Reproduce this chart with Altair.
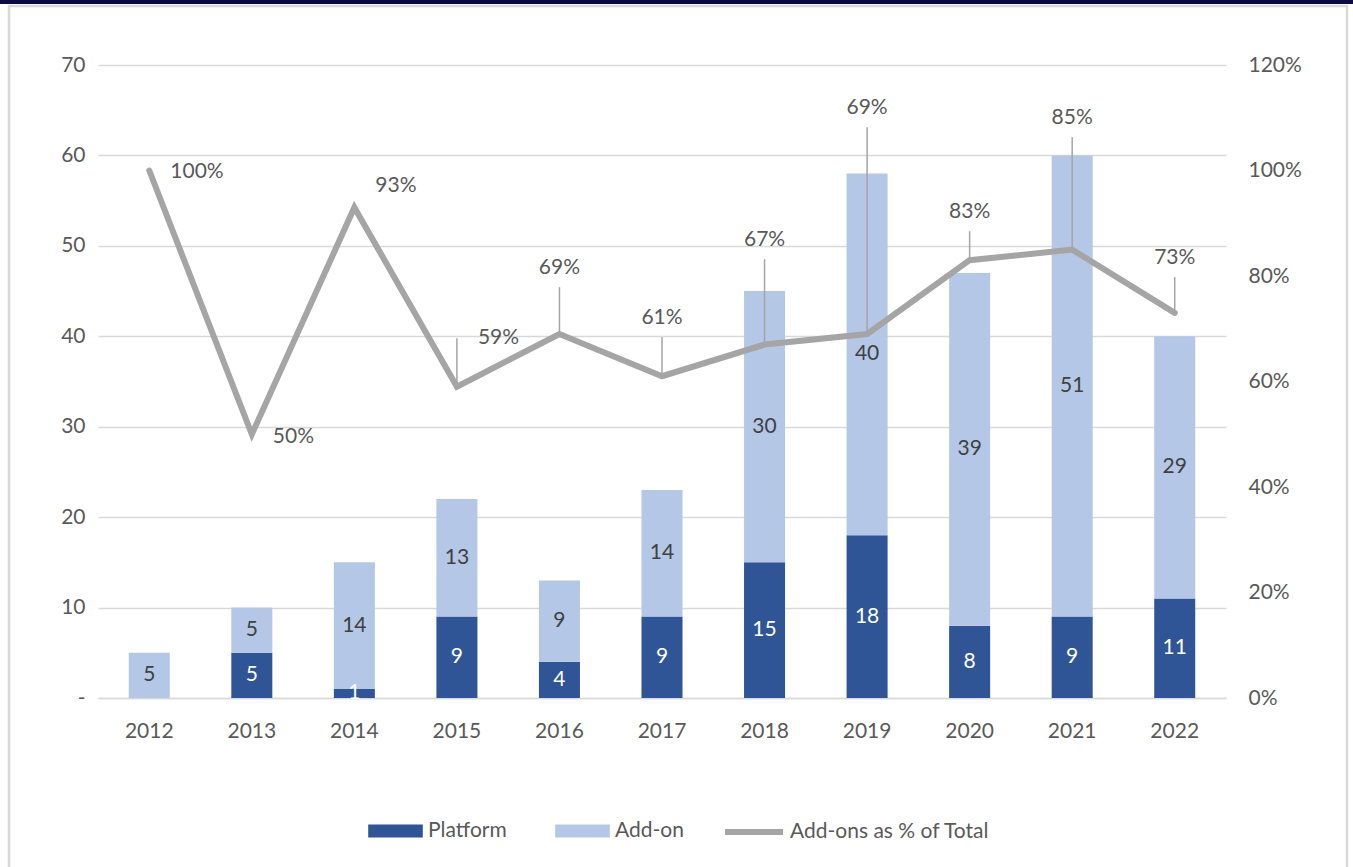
import altair as alt
import pandas as pd

years = ["2012", "2013", "2014", "2015", "2016", "2017", "2018", "2019", "2020", "2021", "2022"]
platform = [0, 5, 1, 9, 4, 9, 15, 18, 8, 9, 11]
addon = [5, 5, 14, 13, 9, 14, 30, 40, 39, 51, 29]
addon_pct = [1.00, 0.50, 0.93, 0.59, 0.69, 0.61, 0.67, 0.69, 0.83, 0.85, 0.73]
# where each percentage label sits (on the right-hand % scale)
pct_label_y = [0.997, 0.495, 0.971, 0.682, 0.815, 0.720, 0.868, 1.118, 0.921, 1.099, 0.834]
bar_series = ["Platform", "Add-on"]
line_series = "Add-ons as % of Total"

n = len(years)
bars_df = pd.DataFrame({
    "year": years * 2,
    "series": [bar_series[0]] * n + [bar_series[1]] * n,
    "value": platform + addon,
    "order": [0] * n + [1] * n,
})
line_df = pd.DataFrame({
    "year": years,
    "pct": addon_pct,
    "label_y": pct_label_y,
    "series": [line_series] * n,
    "idx": list(range(n)),
})

FONT = "Lato"
TXT = "#595959"
GRID = "#D9D9D9"
FS = 21

x_enc = alt.X(
    "year:N",
    scale=alt.Scale(paddingInner=0.6, paddingOuter=0.3),
    axis=alt.Axis(title=None, labelAngle=0, ticks=False, domain=True, domainColor=GRID,
                  domainWidth=1.5, labelPadding=22, labelFontSize=FS, labelColor=TXT, labelFont=FONT),
)

left_scale = alt.Scale(domain=[0, 70])
right_scale = alt.Scale(domain=[0, 1.2])

frame = alt.Chart(pd.DataFrame({"k": [0]})).mark_rect(
    filled=False, stroke=GRID, strokeWidth=2.5
).encode(x=alt.value(-89), x2=alt.value(1249), y=alt.value(-59), y2=alt.value(830))

topband = alt.Chart(pd.DataFrame({"k": [0]})).mark_rect(color="#0B0B3F").encode(
    x=alt.value(-98), x2=alt.value(1255), y=alt.value(-65), y2=alt.value(-61)
)

bars = alt.Chart(bars_df).mark_bar().encode(
    x=x_enc,
    y=alt.Y("value:Q", stack="zero", scale=left_scale,
            axis=alt.Axis(title=None, values=list(range(0, 71, 10)),
                          labelExpr="datum.value == 0 ? '-' : datum.label",
                          grid=True, gridColor=GRID, gridWidth=1.5, domain=False, ticks=False,
                          labelPadding=13, labelFontSize=FS, labelColor=TXT, labelFont=FONT)),
    fill=alt.Fill("series:N",
                  scale=alt.Scale(domain=bar_series, range=["#2F5597", "#B4C7E7"]),
                  legend=alt.Legend(orient="none", legendX=284.5, legendY=753, direction="horizontal",
                                    title=None, symbolType="M-2.1,-0.5H2.1V0.5H-2.1Z", symbolSize=676,
                                    symbolStrokeWidth=0, labelOffset=19.5, columnPadding=47,
                                    labelFontSize=FS, labelColor=TXT, labelFont=FONT, padding=0,
                                    labelLimit=400)),
    order=alt.Order("order:Q", sort="ascending"),
)

bar_labels = alt.Chart(bars_df).transform_filter("datum.value > 0").transform_stack(
    stack="value", groupby=["year"], as_=["y0", "y1"],
    sort=[alt.SortField("order", order="ascending")]
).transform_calculate(mid="(datum.y0 + datum.y1) / 2").mark_text(
    fontSize=FS, font=FONT, baseline="middle"
).encode(
    x=alt.X("year:N"),
    y=alt.Y("mid:Q", scale=left_scale),
    text=alt.Text("value:Q"),
    color=alt.condition("datum.series == 'Platform'", alt.value("white"), alt.value("#404040")),
)

left = alt.layer(topband, frame, bars, bar_labels)

line = alt.Chart(line_df).mark_line(strokeWidth=6, strokeCap="round").encode(
    x=alt.X("year:N"),
    y=alt.Y("pct:Q", scale=right_scale,
            axis=alt.Axis(title=None, orient="right", format=".0%",
                          values=[0, 0.2, 0.4, 0.6, 0.8, 1.0, 1.2], grid=False, domain=False,
                          ticks=False, labelPadding=22, labelFontSize=FS, labelColor=TXT,
                          labelFont=FONT)),
    stroke=alt.Stroke("series:N", scale=alt.Scale(domain=[line_series], range=["#A5A5A5"]),
                      legend=alt.Legend(orient="none", legendX=624, legendY=735, title=None,
                                        symbolType="stroke", symbolSize=3364, symbolStrokeWidth=6,
                                        labelOffset=4, labelFontSize=FS, labelColor=TXT,
                                        labelFont=FONT, padding=0, labelLimit=400)),
)

leaders = alt.Chart(line_df).transform_filter("datum.idx >= 4").mark_rule(
    color="#A5A5A5", strokeWidth=1.5, y2Offset=19
).encode(x=alt.X("year:N"), y=alt.Y("pct:Q", scale=right_scale), y2="label_y:Q")

leader15 = alt.Chart(line_df).transform_filter("datum.idx == 3").mark_rule(
    color="#A5A5A5", strokeWidth=1.5
).encode(x=alt.X("year:N"), y=alt.Y("pct:Q", scale=right_scale), y2="label_y:Q")

pct_left = alt.Chart(line_df).transform_filter("datum.idx <= 3").mark_text(
    align="left", baseline="middle", dx=21, fontSize=FS, font=FONT, color=TXT
).encode(x=alt.X("year:N"), y=alt.Y("label_y:Q", scale=right_scale),
         text=alt.Text("pct:Q", format=".0%"))

pct_center = alt.Chart(line_df).transform_filter("datum.idx >= 4").mark_text(
    align="center", baseline="middle", fontSize=FS, font=FONT, color=TXT
).encode(x=alt.X("year:N"), y=alt.Y("label_y:Q", scale=right_scale),
         text=alt.Text("pct:Q", format=".0%"))

right = alt.layer(line, leaders, leader15, pct_left, pct_center)

chart = alt.layer(left, right).resolve_scale(y="independent").properties(
    width=1128, height=633,
    autosize=alt.AutoSizeParams(type="none"),
    padding={"left": 98, "top": 65, "right": 127, "bottom": 169},
    background="white",
).configure(font=FONT, view=alt.ViewConfig(stroke=None))

chart.save("out.html", embed_options={"renderer": "svg", "actions": False})
